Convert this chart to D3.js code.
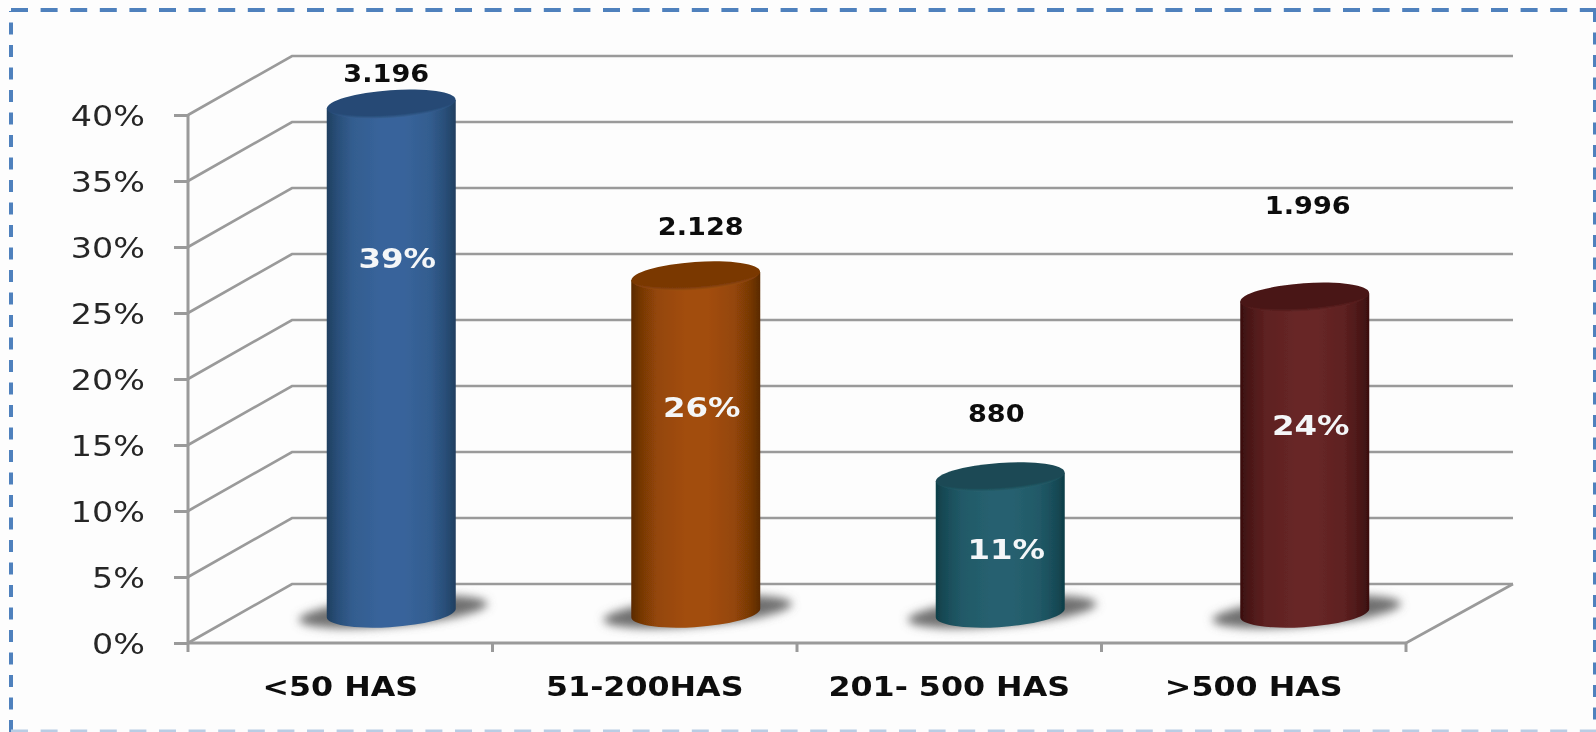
<!DOCTYPE html>
<html><head><meta charset="utf-8">
<script src="https://cdn.jsdelivr.net/npm/d3@7"></script>
<style>html,body{margin:0;padding:0;background:#fdfdfd}svg{display:block}</style>
</head><body><svg id="c" width="1596" height="732"></svg>
<script>
const categories = ["<50 HAS","51-200HAS","201- 500 HAS",">500 HAS"];
const percents = [38.97,25.95,10.73,24.34];
const percentLabels = ["39%","26%","11%","24%"];
const countLabels = ["3.196","2.128","880","1.996"];
const yTicks = [0,5,10,15,20,25,30,35,40];
const fills = [
 {edge:"#1f3f60",mid:"#38649b",top:"#264a75",rim:"#3f6ca3"},
 {edge:"#5a2a05",mid:"#a24d08",top:"#7a3906",rim:"#a9570f"},
 {edge:"#0f3e48",mid:"#26606f",top:"#1a4a55",rim:"#2c6a78"},
 {edge:"#3a0f0f",mid:"#672626",top:"#491616",rim:"#702c2c"}
];
// label placement on the percent scale, as they sit in the picture
const countLabelAt = [43.15,31.6,17.45,33.2];
const pctLabelAt = [29.2,17.9,7.1,16.5];
const countLabelDx = [-5,5,-4,3];

const svg = d3.select("#c");
const x0=188,x1=1406,yB=643,yT=115,dx=104,dy=-59;
const y = d3.scaleLinear().domain([0,40]).range([yB,yT]);
const x = d3.scaleBand().domain(categories).range([x0,x1]);
const defs = svg.append("defs");
const soft = defs.append("filter").attr("id","soft").attr("filterUnits","userSpaceOnUse").attr("x",0).attr("y",0).attr("width",1596).attr("height",732);
soft.append("feGaussianBlur").attr("stdDeviation",0.6);
const sh = defs.append("filter").attr("id","sh").attr("x","-30%").attr("y","-100%").attr("width","160%").attr("height","300%");
sh.append("feGaussianBlur").attr("stdDeviation",5);
fills.forEach((f,i)=>{
  const g=defs.append("linearGradient").attr("id","cyl"+i);
  const mix=d3.interpolateRgb(f.edge,f.mid);
  [[0,mix(0)],[.08,mix(.4)],[.2,mix(.8)],[.42,mix(1)],[.6,mix(1)],[.8,mix(.8)],[.92,mix(.4)],[1,mix(0)]].forEach(([o,c])=>{
    g.append("stop").attr("offset",o).attr("stop-color",c);
  });
  const t=defs.append("radialGradient").attr("id","cap"+i).attr("cx",.5).attr("cy",.32).attr("r",.72);
  t.append("stop").attr("offset",.78).attr("stop-color",f.top);
  t.append("stop").attr("offset",1).attr("stop-color",f.rim);
});

const root = svg.append("g").attr("filter","url(#soft)");
// dashed frame
const frame=[["M11,732V11","#4f81bd",4,"12 10.5"],["M11,10H1596","#4f81bd",4,"17 12.6"],["M1595,10V732","#4f81bd",4,"12 10.5"],["M11,731H1596","#b9cde4",3,"17 12.6"]];
root.append("g").selectAll("path").data(frame).join("path").attr("d",d=>d[0]).attr("fill","none").attr("stroke",d=>d[1]).attr("stroke-width",d=>d[2]).attr("stroke-dasharray",d=>d[3]);

const gridC="#9a9a9a";
// walls
root.append("g").selectAll("path").data(yTicks).join("path")
 .attr("d",t=>`M${x0},${y(t)}L${x0+dx},${y(t)+dy}H${x1+dx+3}`)
 .attr("fill","none").attr("stroke",gridC).attr("stroke-width",2.6);
root.append("path").attr("d",`M${x1},${yB}L${x1+dx+3},${yB+dy}`).attr("fill","none").attr("stroke",gridC).attr("stroke-width",2.6);

// y axis
const yAxis = d3.axisLeft(y).tickValues(yTicks).tickSize(14).tickPadding(0).tickFormat(d=>d+"%");
const ga = root.append("g").attr("transform",`translate(${x0},0)`).call(yAxis);
ga.selectAll("path,line").attr("stroke",gridC).attr("stroke-width",3);
ga.select(".domain").attr("d",`M0,${yT}V${yB}`);
ga.selectAll("text").attr("x",null).attr("dy",null).attr("text-anchor","end")
 .attr("transform","translate(-43,10) scale(1.15,1)")
 .attr("font-family","'DejaVu Sans'").attr("font-size",29).attr("fill","#262626");

// x axis
const xAxis = d3.axisBottom(x).tickSize(0).tickPadding(0);
const gx = root.append("g").attr("transform",`translate(0,${yB})`).call(xAxis);
gx.select(".domain").attr("d",`M${x0},0H${x1}`).attr("stroke",gridC).attr("stroke-width",3);
gx.selectAll("text").attr("y",null).attr("dy",null).attr("text-anchor","middle")
 .attr("font-family","'DejaVu Sans'").attr("font-weight","bold").attr("font-size",26).attr("fill","#0d0d0d")
 .attr("transform","translate(0,53) scale(1.22,1)");
const bandEdges = [x0].concat(categories.map(c=>x(c)+x.bandwidth()));
root.append("g").selectAll("line").data(bandEdges).join("line")
 .attr("x1",d=>d).attr("x2",d=>d).attr("y1",yB).attr("y2",yB+9).attr("stroke",gridC).attr("stroke-width",3);

// cylinders
const rx=64.5, ry=14, tilt=4, rot=-4;
const depthX=dx/2;
const bars = root.append("g").selectAll("g").data(percents).join("g");
bars.each(function(v,i){
  const g=d3.select(this);
  const cx=x(categories[i])+x.bandwidth()/2+depthX-1;
  const yb=y(0)-30, yt=y(v)-24.5;
  g.append("ellipse").attr("cx",cx+2).attr("cy",yb-1).attr("rx",rx+30).attr("ry",14)
   .attr("transform",`rotate(${rot-1} ${cx} ${yb})`).attr("fill","#707070").attr("filter","url(#sh)");
  g.append("path").attr("d",`M${cx-rx},${yt+tilt}L${cx-rx},${yb+tilt}A${rx},${ry} ${rot} 0 0 ${cx+rx},${yb-tilt}L${cx+rx},${yt-tilt}Z`)
   .attr("fill",`url(#cyl${i})`);
  g.append("ellipse").attr("cx",cx).attr("cy",yt).attr("rx",rx).attr("ry",ry)
   .attr("transform",`rotate(${rot} ${cx} ${yt})`).attr("fill",`url(#cap${i})`);
  g.append("text").attr("text-anchor","middle").attr("font-family","'DejaVu Sans'").attr("font-weight","bold").attr("font-size",27)
   .attr("fill","#f4f6f8").attr("transform",`translate(${cx+6},${y(pctLabelAt[i])+10}) scale(1.2,1)`).text(percentLabels[i]);
  g.append("text").attr("text-anchor","middle").attr("font-family","'DejaVu Sans'").attr("font-weight","bold").attr("font-size",24)
   .attr("fill","#0d0d0d").attr("transform",`translate(${cx+countLabelDx[i]},${y(countLabelAt[i])+9}) scale(1.13,1)`).text(countLabels[i]);
});
</script></body></html>
